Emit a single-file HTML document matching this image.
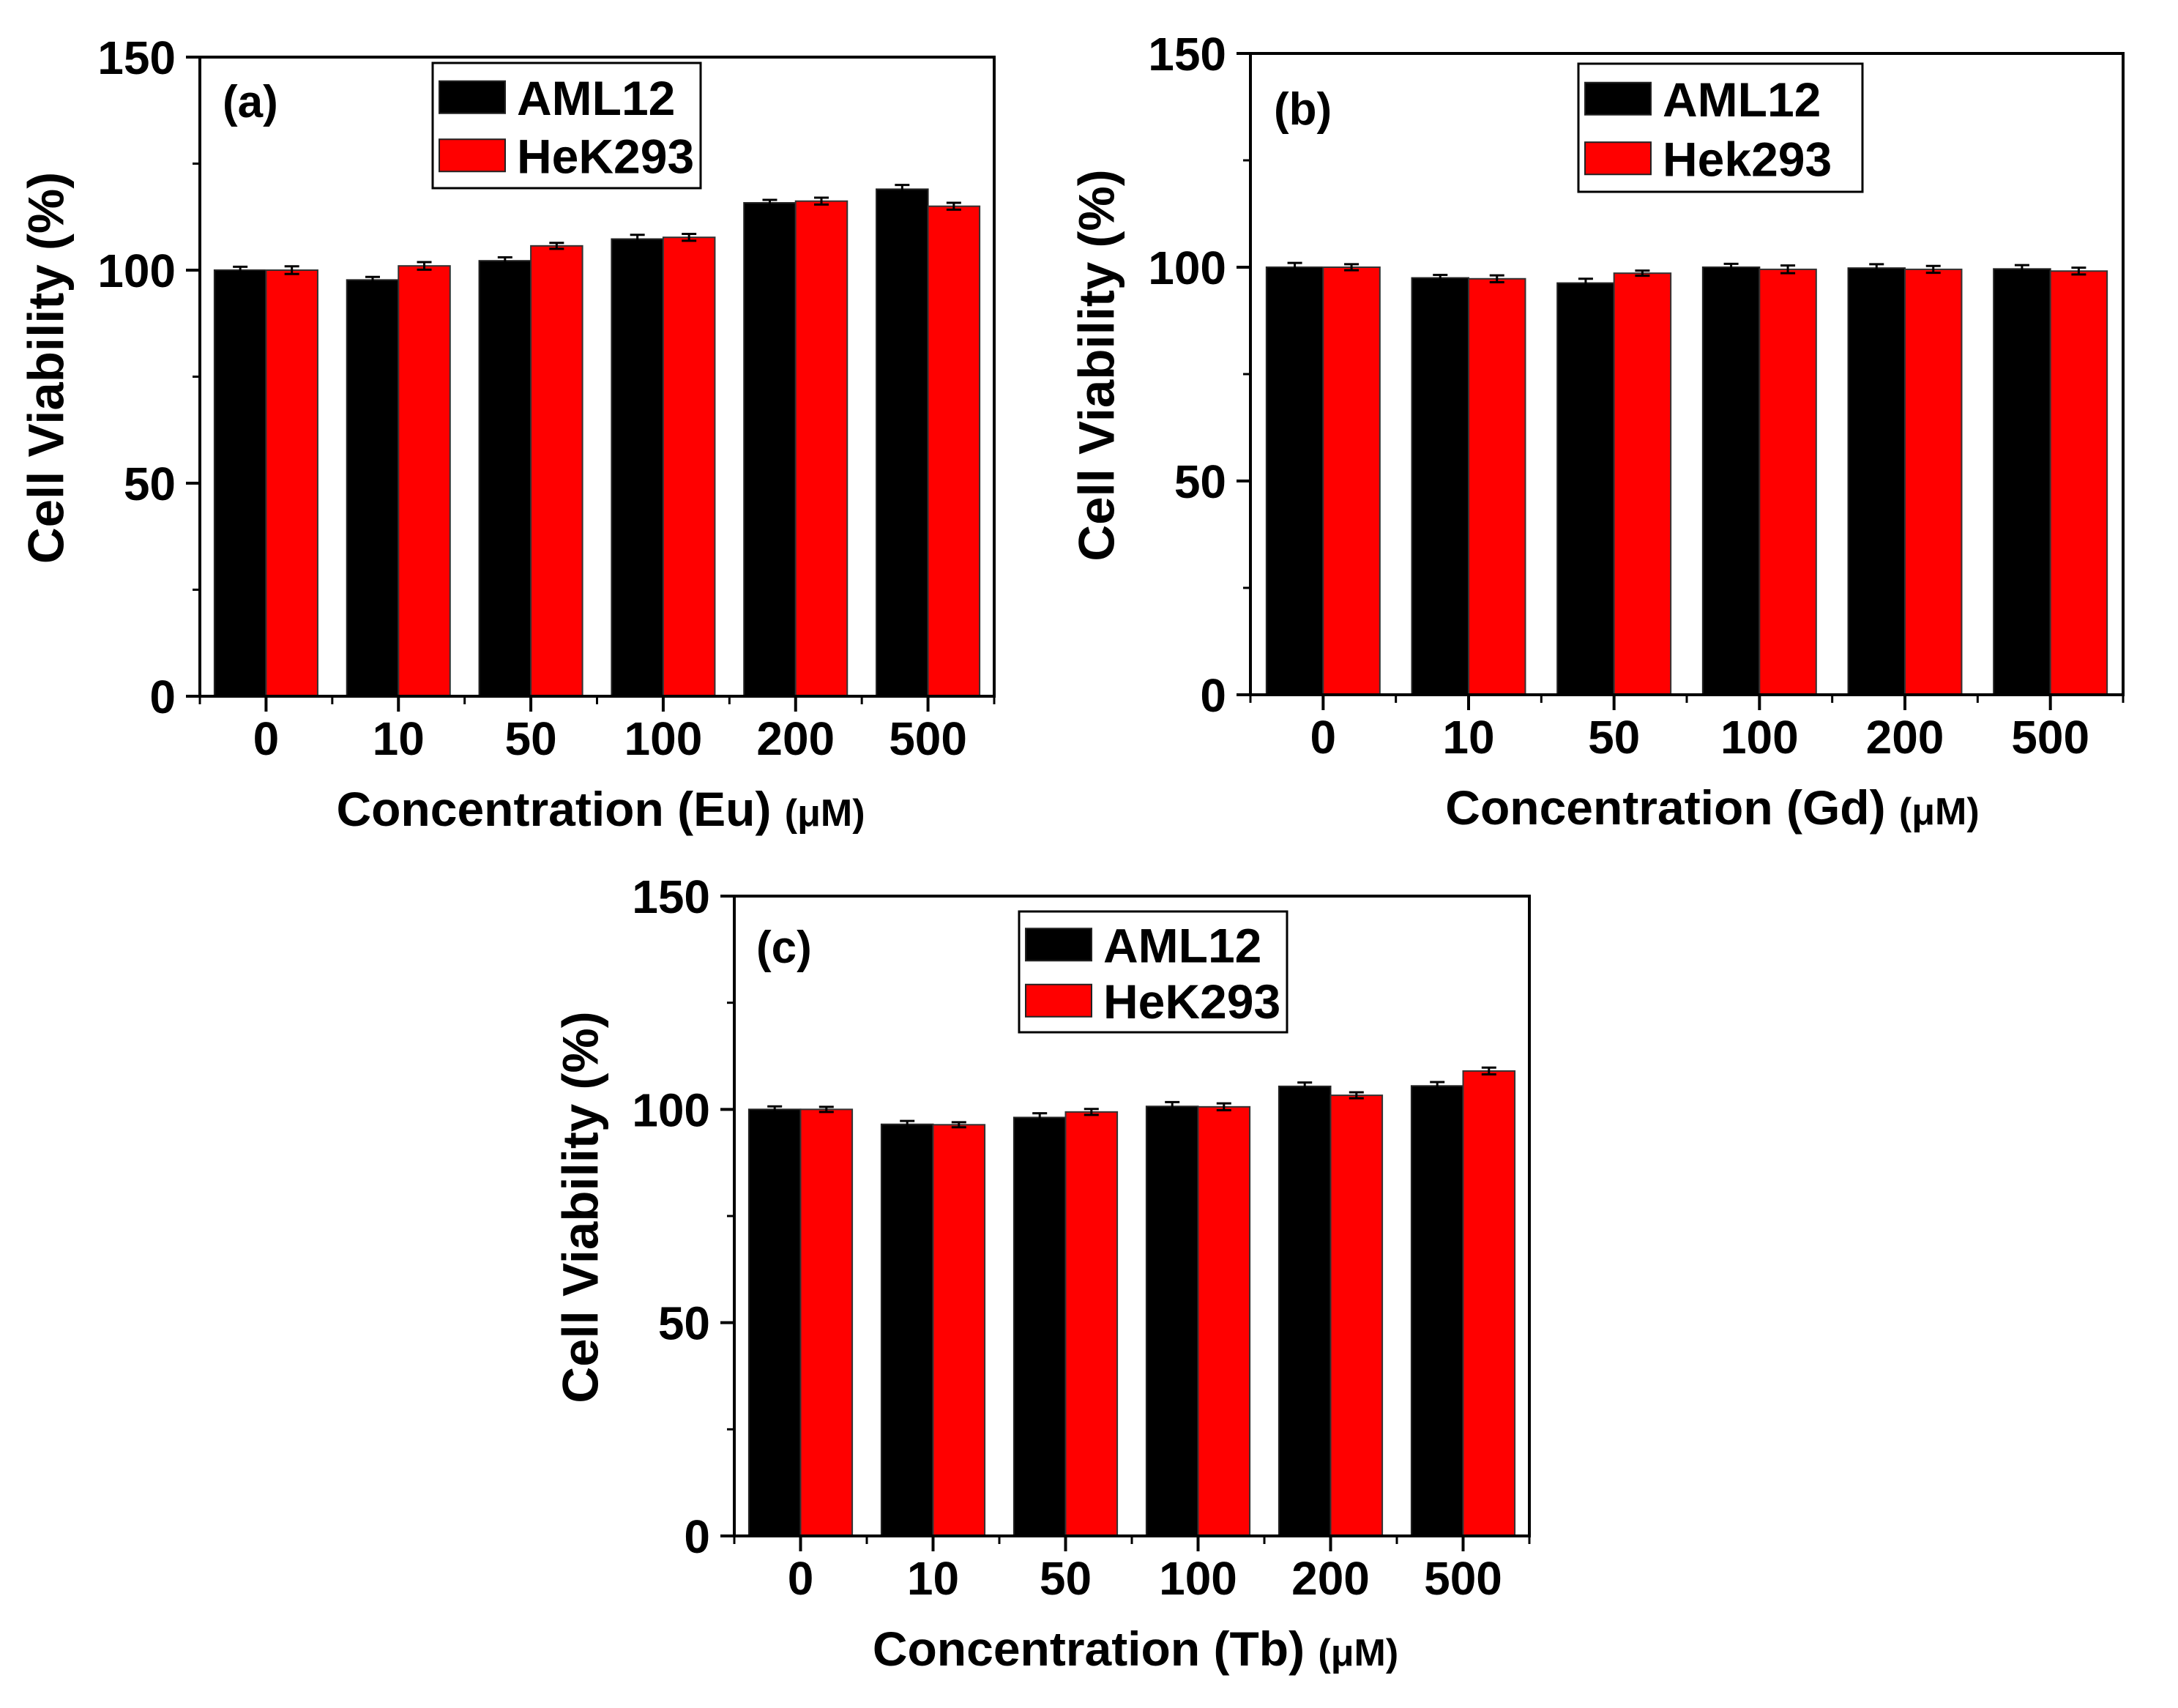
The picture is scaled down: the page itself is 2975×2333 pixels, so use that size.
<!DOCTYPE html>
<html><head><meta charset="utf-8"><style>
html,body{margin:0;padding:0;background:#fff;}
svg{display:block;font-family:"Liberation Sans",Arial,sans-serif;font-weight:bold;}
</style></head>
<body>
<svg id="fig" width="2975" height="2333" viewBox="0 0 2975 2333" xmlns="http://www.w3.org/2000/svg">
<rect width="2975" height="2333" fill="#fff"/>
</svg>
<script>
const categories = ["0","10","50","100","200","500"];
const yTicks = [0,50,100,150];
const seriesNames = ["AML12","HeK293"];
const aBlack = [100,97.7,102.2,107.3,115.8,119.0];
const aRed = [100,101.0,105.7,107.7,116.2,115.0];
const bBlack = [100,97.5,96.3,100.0,99.8,99.6];
const bRed = [100,97.3,98.6,99.5,99.5,99.1];
const cBlack = [100,96.5,98.1,100.7,105.4,105.5];
const cRed = [100,96.4,99.4,100.6,103.3,109.0];
const aErrBlack = [0.8,0.7,0.8,1.0,0.7,1.0];
const aErrRed = [0.9,0.9,0.7,0.8,0.8,0.8];
const bErrBlack = [1.0,0.7,1.0,0.8,0.9,0.9];
const bErrRed = [0.7,0.8,0.6,0.9,0.8,0.8];
const cErrBlack = [0.7,0.8,1.0,1.0,0.9,0.9];
const cErrRed = [0.6,0.6,0.7,0.8,0.7,0.8];

const NS="http://www.w3.org/2000/svg";
const svg=document.getElementById('fig');
function mk(tag,attrs,parent){const e=document.createElementNS(NS,tag);for(const k in attrs)e.setAttribute(k,attrs[k]);(parent||svg).appendChild(e);return e;}

const panels=[
 {id:'a',L:273,R:1358,T:78,B:951,black:aBlack,red:aRed,eb:aErrBlack,er:aErrRed,tag:'(a)',tagX:304,tagY:160,legX:591,legY:86,legW:366,legH:171,names:["AML12","HeK293"],el:'Eu',tOff:0},
 {id:'b',L:1708,R:2900,T:73,B:949,black:bBlack,red:bRed,eb:bErrBlack,er:bErrRed,tag:'(b)',tagX:1740,tagY:170,legX:2156,legY:87,legW:388,legH:175,names:["AML12","Hek293"],el:'Gd',tOff:30},
 {id:'c',L:1003,R:2089,T:1224,B:2098,black:cBlack,red:cRed,eb:cErrBlack,er:cErrRed,tag:'(c)',tagX:1033,tagY:1315,legX:1392,legY:1245,legW:366,legH:165,names:["AML12","HeK293"],el:'Tb',tOff:0}
];

panels.forEach(p=>{
  const g=mk('g',{});
  
  
  const n=categories.length, slot=(p.R-p.L)/n, bw=slot*0.39;
  const y=v=>p.B-(v-0)/(150-0)*(p.B-p.T);
  const xc=i=>p.L+slot*(i+0.5);
  for(let i=0;i<n;i++){
    const vb=p.black[i], vr=p.red[i];
    const rb=mk('rect',{x:xc(i)-bw,y:y(vb),width:bw,height:p.B-y(vb),fill:'#000',stroke:'#222','stroke-width':2},g);
    
    
    const rr=mk('rect',{x:xc(i),y:y(vr),width:bw,height:p.B-y(vr),fill:'#ff0000',stroke:'#333','stroke-width':2},g);
    
    
    [[xc(i)-bw/2,vb,p.eb[i]],[xc(i)+bw/2,vr,p.er[i]]].forEach(([cx,v,e])=>{
      const eg=mk('g',{stroke:'#000','stroke-width':3},g);
      
      
      mk('line',{x1:cx,x2:cx,y1:y(v+e),y2:y(v-e)},eg);
      mk('line',{x1:cx-10,x2:cx+10,y1:y(v+e),y2:y(v+e)},eg);
      mk('line',{x1:cx-10,x2:cx+10,y1:y(v-e),y2:y(v-e)},eg);
    });
  }
  const fr=mk('rect',{x:p.L,y:p.T,width:p.R-p.L,height:p.B-p.T,fill:'none',stroke:'#000','stroke-width':4},g);
  
  
  yTicks.forEach(t=>{
    mk('line',{x1:p.L-19,x2:p.L,y1:y(t),y2:y(t),stroke:'#000','stroke-width':4},g);
    const tx=mk('text',{x:p.L-33,y:y(t)+23,'text-anchor':'end','font-size':64},g);
    tx.textContent=t;
    
    
  });
  for(let t=25;t<150;t+=50){mk('line',{x1:p.L-10,x2:p.L,y1:y(t),y2:y(t),stroke:'#000','stroke-width':3},g);}
  for(let i=0;i<n;i++){
    mk('line',{x1:xc(i),x2:xc(i),y1:p.B,y2:p.B+21,stroke:'#000','stroke-width':4},g);
    const tx=mk('text',{x:xc(i),y:p.B+80,'text-anchor':'middle','font-size':64},g);
    tx.textContent=categories[i];
    
    
  }
  for(let i=0;i<=n;i++){const x=p.L+slot*i;mk('line',{x1:x,x2:x,y1:p.B,y2:p.B+11,stroke:'#000','stroke-width':3},g);}
  const xt=mk('text',{x:(p.L+p.R)/2+5+p.tOff,y:p.B+177,'text-anchor':'middle','font-size':66},g);
  xt.innerHTML='Concentration ('+p.el+') <tspan font-size="52">(μM)</tspan>';
  
  
  const cy=(p.T+p.B)/2-12, cxl=p.L-210;
  const yt=mk('text',{x:cxl,y:cy,'text-anchor':'middle','dominant-baseline':'central','font-size':69,transform:`rotate(-90 ${cxl} ${cy})`},g);
  yt.textContent='Cell Viability (%)';
  
  
  const tg=mk('text',{x:p.tagX,y:p.tagY,'font-size':62},g);
  tg.textContent=p.tag;
  
  
  const lg=mk('g',{},g);
  
  
  mk('rect',{x:p.legX,y:p.legY,width:p.legW,height:p.legH,fill:'#fff',stroke:'#000','stroke-width':3},lg);
  const rowH=p.legH/2;
  [['#000',p.names[0]],['#ff0000',p.names[1]]].forEach(([c,nm],k)=>{
    const cyy=p.legY+rowH*(k+0.5)+ (k===0?4:-2);
    const sw=mk('rect',{x:p.legX+9,y:cyy-22,width:90,height:44,fill:c,stroke:'#222','stroke-width':2},lg);
    
    
    const lt=mk('text',{x:p.legX+115,y:cyy+24,'font-size':66},lg);
    lt.textContent=nm;
    
    
  });
});
</script>
</body></html>
